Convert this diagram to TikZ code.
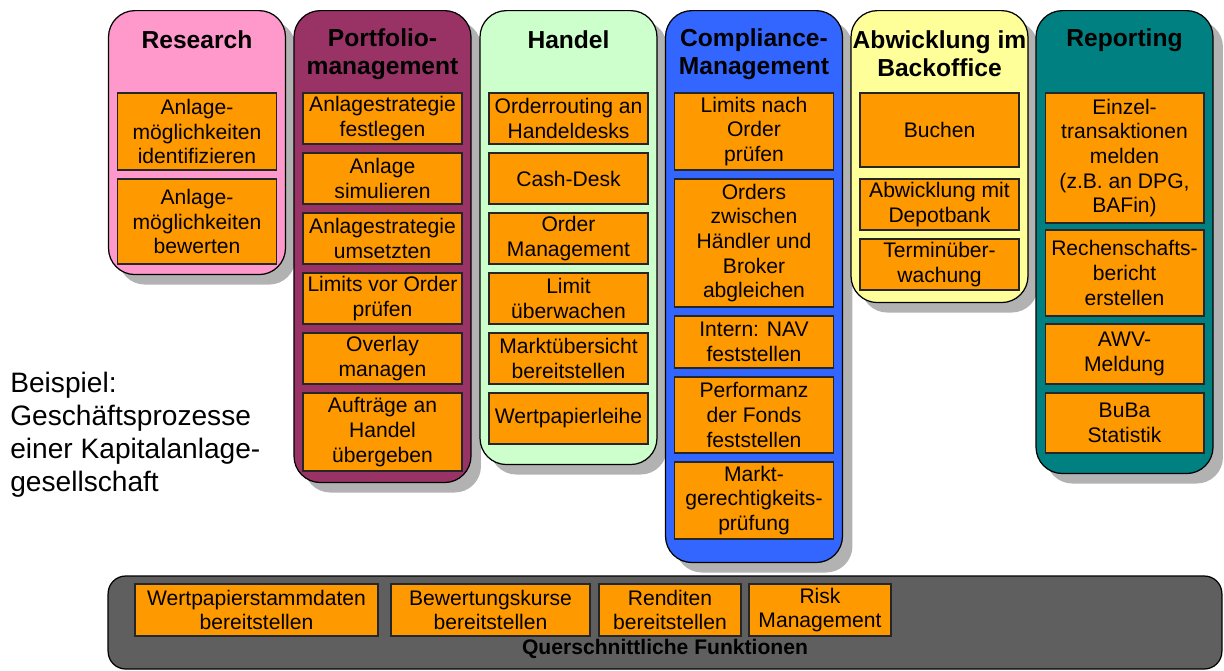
\documentclass[tikz,border=0pt]{standalone}
\usepackage{fontspec}
\setmainfont{Liberation Sans}
\usetikzlibrary{shadows}

\definecolor{researchpink}{HTML}{FF99CC}
\definecolor{pmpurple}{HTML}{993366}
\definecolor{handelgreen}{HTML}{CCFFCC}
\definecolor{complblue}{HTML}{3366FF}
\definecolor{boyellow}{HTML}{FFFF99}
\definecolor{repteal}{HTML}{008080}
\definecolor{taskorange}{HTML}{FF9900}
\definecolor{crossgray}{HTML}{5F5F5F}

\begin{document}
\begin{tikzpicture}[
  x=0.02cm, y=-0.02cm,
  lane/.style={draw, line width=0.7pt, rounded corners=15pt, anchor=north, inner sep=0pt,
               minimum width=3.54cm,
               drop shadow={shadow xshift=0.2cm, shadow yshift=-0.2cm, fill=black!30, opacity=1}},
  lanetitle/.style={align=center, inner sep=0pt, font=\fontsize{14}{16}\selectfont\bfseries},
  task/.style={draw=black!85, line width=0.6pt, fill=taskorange, align=center, inner sep=1pt,
               minimum width=3.18cm, font=\fontsize{12}{14}\selectfont},
  crossbox/.style={draw, line width=0.7pt, fill=crossgray, rounded corners=10pt, inner sep=0pt}
]
\useasboundingbox (0,0) rectangle (1224,670);

\def\xa{197} \def\xb{382.5} \def\xc{568.5} \def\xd{754} \def\xe{939.5} \def\xf{1124.5}

\node[lane, fill=researchpink, minimum height=5.28cm] (research) at (\xa,10) {};
\node[lane, fill=pmpurple, minimum height=9.44cm] (portfolio) at (\xb,10) {};
\node[lane, fill=handelgreen, minimum height=9.08cm] (handel) at (\xc,10) {};
\node[lane, fill=complblue, minimum height=11.04cm] (compliance) at (\xd,10) {};
\node[lane, fill=boyellow, minimum height=5.84cm] (backoffice) at (\xe,10) {};
\node[lane, fill=repteal, minimum height=9.26cm] (reporting) at (\xf,10) {};

\node[lanetitle] (researchtitle) at (\xa,40) {Research};
\node[lanetitle] (portfoliotitle) at (\xb,54) {Portfolio-\\management};
\node[lanetitle] (handeltitle) at (\xc,40) {Handel};
\node[lanetitle] (compliancetitle) at (\xd,54) {Compliance-\\Management};
\node[lanetitle] (backofficetitle) at (\xe,54) {Abwicklung im\\Backoffice};
\node[lanetitle] (reportingtitle) at (\xf,40) {Reporting};

\node[task, minimum height=1.54cm] (res1) at (\xa,131.5) {Anlage-\\möglichkeiten\\identifizieren};
\node[task, minimum height=1.70cm] (res2) at (\xa,221.5) {Anlage-\\möglichkeiten\\bewerten};

\node[task, minimum height=1.02cm] (pm1) at (\xb,118.5) {Anlagestrategie\\festlegen};
\node[task, minimum height=1.02cm] (pm2) at (\xb,178.5) {Anlage\\simulieren};
\node[task, minimum height=1.02cm] (pm3) at (\xb,238.5) {Anlagestrategie\\umsetzten};
\node[task, minimum height=1.02cm] (pm4) at (\xb,298.5) {Limits vor Order\\prüfen};
\node[task, minimum height=1.02cm] (pm5) at (\xb,358.5) {Overlay\\managen};
\node[task, minimum height=1.56cm] (pm6) at (\xb,432) {Aufträge an\\Handel\\übergeben};

\node[task, minimum height=1.02cm] (ha1) at (\xc,118.5) {Orderrouting an\\Handeldesks};
\node[task, minimum height=1.02cm] (ha2) at (\xc,178.5) {Cash-Desk};
\node[task, minimum height=1.02cm] (ha3) at (\xc,238.5) {Order\\Management};
\node[task, minimum height=1.02cm] (ha4) at (\xc,298.5) {Limit\\überwachen};
\node[task, minimum height=1.02cm] (ha5) at (\xc,358.5) {Marktübersicht\\bereitstellen};
\node[task, minimum height=1.02cm] (ha6) at (\xc,418.5) {Wertpapierleihe};

\node[task, minimum height=1.54cm] (co1) at (\xd,131.5) {Limits nach\\Order\\prüfen};
\node[task, minimum height=2.56cm] (co2) at (\xd,243) {Orders\\zwischen\\Händler und\\Broker\\abgleichen};
\node[task, minimum height=1.04cm] (co3) at (\xd,342) {Intern: NAV\\feststellen};
\node[task, minimum height=1.52cm] (co4) at (\xd,415) {Performanz\\der Fonds\\feststellen};
\node[task, minimum height=1.54cm] (co5) at (\xd,500.5) {Markt-\\gerechtigkeits-\\prüfung};

\node[task, minimum height=1.48cm] (bo1) at (\xe,130) {Buchen};
\node[task, minimum height=1.02cm] (bo2) at (\xe,204.5) {Abwicklung mit\\Depotbank};
\node[task, minimum height=1.02cm] (bo3) at (\xe,264.5) {Terminüber-\\wachung};

\node[task, minimum height=2.60cm] (rep1) at (\xf,158) {Einzel-\\transaktionen\\melden\\(z.B. an DPG,\\BAFin)};
\node[task, minimum height=1.72cm] (rep2) at (\xf,273) {Rechenschafts-\\bericht\\erstellen};
\node[task, minimum height=1.20cm] (rep3) at (\xf,354) {AWV-\\Meldung};
\node[task, minimum height=1.20cm] (rep4) at (\xf,423) {BuBa\\Statistik};

\node[anchor=west, align=left, inner sep=0pt, font=\fontsize{16}{18.7}\selectfont] (example) at (10,434.5)
  {Beispiel:\\Geschäftsprozesse\\einer Kapitalanlage-\\gesellschaft};

\node[crossbox, minimum width=22.28cm, minimum height=1.86cm] (querschnitt) at (665,622.5) {};
\node[task, minimum width=4.86cm, minimum height=1.04cm] (qf1) at (256.5,610) {Wertpapierstammdaten\\bereitstellen};
\node[task, minimum width=3.98cm, minimum height=1.04cm] (qf2) at (490.5,610) {Bewertungskurse\\bereitstellen};
\node[task, minimum width=2.84cm, minimum height=1.04cm] (qf3) at (670,610) {Renditen\\bereitstellen};
\node[task, minimum width=2.84cm, minimum height=1.04cm] (qf4) at (820,610) {Risk\\Management};
\node[inner sep=0pt, font=\fontsize{12}{14}\selectfont\bfseries] (querschnitttitle) at (665,649) {Querschnittliche Funktionen};

\end{tikzpicture}
\end{document}
